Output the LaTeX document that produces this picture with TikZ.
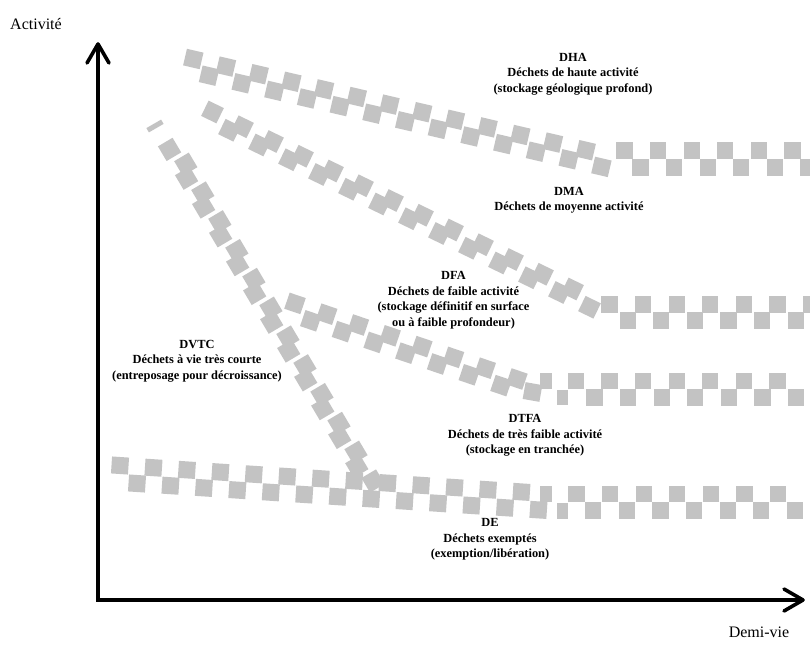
\documentclass[tikz,border=0pt]{standalone}
\usepackage{fontspec}
\setmainfont{Liberation Serif}
\definecolor{sqgray}{RGB}{195,195,195}
\tikzset{sqfill/.style={fill=sqgray}}
% one square: centre x, centre y, rotation, half side
\newcommand\onesq[4]{\fill[sqfill, shift={(#1,#2)}, rotate=#3] (-#4,-#4) -- (#4,-#4) -- (#4,#4) -- (-#4,#4) -- cycle;}
% row of squares: x0 y0 dx dy from to rotation
\newcommand\sqrow[7]{\foreach \i in {#5,...,#6}{\pgfmathsetmacro\cx{#1+\i*#3}\pgfmathsetmacro\cy{#2+\i*#4}\onesq{\cx}{\cy}{#7}{8.5}}}
% horizontal row: x0 y from to
\newcommand\hrow[4]{\foreach \k in {#3,...,#4}{\pgfmathsetmacro\cx{#1+\k*33.6}\onesq{\cx}{#2}{0}{8.1}}}
\begin{document}
\begin{tikzpicture}[x=1pt,y=-1pt,
  lab/.style={font=\bfseries\fontsize{12.4}{15.5}\selectfont, align=center, inner sep=0pt},
  axlab/.style={font=\fontsize{16}{19}\selectfont, inner sep=0pt},
  axis/.style={line width=3.6pt, black}]
\useasboundingbox (0,0) rectangle (810,648);
\begin{scope}
\clip (0,0) rectangle (810,648);
% DHA
\sqrow{193.3}{59}{32.7}{7.6}{0}{12}{-13.1}
\sqrow{209}{75.7}{32.7}{7.6}{0}{12}{-13.1}
\hrow{624.5}{150.5}{0}{5}
\hrow{640.5}{167.5}{0}{5}
% DMA
\sqrow{242.5}{126.75}{30}{14.75}{-1}{11}{-26.2}
\sqrow{229.5}{130.25}{30}{14.75}{0}{12}{-26.2}
\hrow{609.5}{304.5}{0}{6}
\hrow{627.7}{320.5}{0}{5}
% DFA
\sqrow{326.7}{314.2}{31.7}{10.8}{-1}{6}{-18.8}
\sqrow{310.8}{320.8}{31.7}{10.8}{0}{6}{-18.8}
\onesq{532.5}{392}{-10}{8.5}
\fill[sqfill] (540,373) rectangle (552,388.6);
\fill[sqfill] (557,389.7) rectangle (568,405.3);
\hrow{575.8}{380.8}{0}{6}
\hrow{594.5}{397.5}{0}{6}
% DE
\sqrow{120}{465.5}{33.45}{2.2}{0}{12}{-3.8}
\sqrow{137}{483.5}{33.45}{2.2}{0}{12}{-3.8}
\fill[sqfill] (540,486.2) rectangle (551.7,502);
\fill[sqfill] (556.7,502.5) rectangle (568.3,518.5);
\hrow{576.5}{494}{0}{6}
\hrow{593.3}{510.5}{0}{6}
% DVTC
\sqrow{185.8}{164.2}{17.02}{28.8}{0}{11}{-59.4}
\sqrow{186.6}{178.2}{17.02}{28.8}{-1}{10}{-59.4}
\fill[sqfill, shift={(155,126)}, rotate=30] (-8.5,-2.5) -- (8.5,-2.5) -- (8.5,2.5) -- (-8.5,2.5) -- cycle;
\end{scope}
% axes
\coordinate (O) at (98,600);
\coordinate (ytip) at (98,44);
\coordinate (xtip) at (803,600);
\draw[axis, line join=miter] (ytip) -- (O) -- (xtip);
\draw[axis, line join=round, line cap=round] ([shift={(-11,19)}]ytip) -- (ytip) -- ([shift={(11,19)}]ytip);
\draw[axis, line join=round, line cap=round] ([shift={(-19,-11)}]xtip) -- (xtip) -- ([shift={(-19,11)}]xtip);
% labels
\node[axlab, anchor=west] (act) at (10,24) {Activité};
\node[axlab] (dv) at (759,632) {Demi-vie};
\node[lab] (dha) at (573,74) {DHA\\Déchets de haute activité\\(stockage géologique profond)};
\node[lab] (dma) at (569,200) {DMA\\Déchets de moyenne activité};
\node[lab] (dfa) at (453.5,300) {DFA\\Déchets de faible activité\\(stockage définitif en surface\\ou à faible profondeur)};
\node[lab] (dtfa) at (525,435.5) {DTFA\\Déchets de très faible activité\\(stockage en tranchée)};
\node[lab] (de) at (490,539.5) {DE\\Déchets exemptés\\(exemption/libération)};
\node[lab] (dvtc) at (197,361) {DVTC\\Déchets à vie très courte\\(entreposage pour décroissance)};
\end{tikzpicture}
\end{document}
